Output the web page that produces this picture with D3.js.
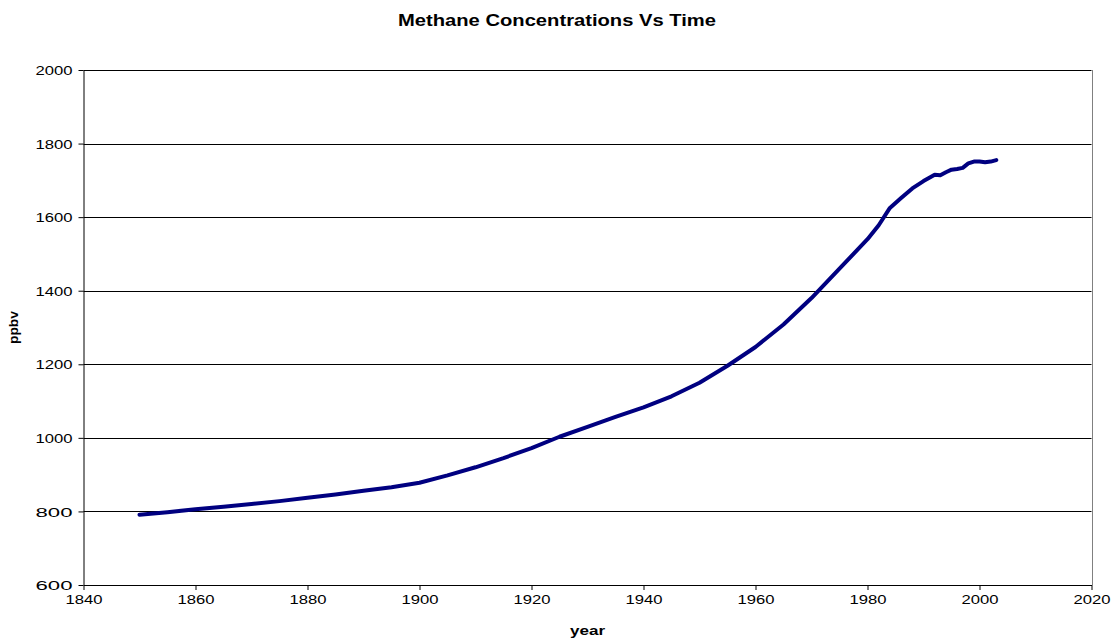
<!DOCTYPE html>
<html>
<head>
<meta charset="utf-8">
<script src="https://cdn.jsdelivr.net/npm/d3@7"></script>
<style>
  body { margin: 0; background: #fff; }
  svg text { font-family: "Liberation Sans", Arial, sans-serif; fill: #000; }
</style>
</head>
<body>
<svg id="chart" width="1112" height="638"></svg>
<script>
// data
let years = [1850, 1855, 1860, 1865, 1870, 1875, 1880, 1885, 1890, 1895,
             1900, 1905, 1910, 1915, 1920, 1925, 1930, 1935, 1940, 1945,
             1950, 1955, 1960, 1965, 1970, 1975, 1980, 1982, 1984, 1986,
             1988, 1990, 1992, 1993, 1994, 1995, 1996, 1997, 1998, 1999,
             2000, 2001, 2002, 2003];
let ppbv = [791, 798, 806, 813, 820, 828, 837, 846, 856, 866,
            878, 898, 920, 945, 972, 1003, 1030, 1057, 1083, 1113,
            1150, 1196, 1247, 1308, 1380, 1460, 1540, 1578, 1625, 1652,
            1678, 1698, 1715, 1714, 1722, 1729, 1731, 1734, 1746, 1751,
            1751, 1749, 1751, 1755];
let xTicks = [1840, 1860, 1880, 1900, 1920, 1940, 1960, 1980, 2000, 2020];
let yTicks = [600, 800, 1000, 1200, 1400, 1600, 1800, 2000];

let plotLeft = 83.5, plotRight = 1091.5, plotTop = 70, plotBottom = 585;

let svg = d3.select("#chart");

let x = d3.scaleLinear().domain([1840, 2020]).range([plotLeft, plotRight]);
let y = d3.scaleLinear().domain([600, 2000]).range([plotBottom, plotTop]);

// gridlines
svg.append("g")
    .selectAll("line")
    .data(yTicks.slice(1))
    .enter()
    .append("line")
    .attr("x1", plotLeft)
    .attr("x2", plotRight)
    .attr("y1", function(d) { return Math.round(y(d)) + 0.5; })
    .attr("y2", function(d) { return Math.round(y(d)) + 0.5; })
    .attr("stroke", "#000")
    .attr("stroke-width", 1);

// right border of plot area
svg.append("line")
    .attr("x1", Math.round(plotRight) + 0.5).attr("x2", Math.round(plotRight) + 0.5)
    .attr("y1", plotTop).attr("y2", plotBottom)
    .attr("stroke", "#808080");

// y axis
let yAxis = d3.axisLeft(y)
    .tickValues(yTicks)
    .tickFormat(d3.format("d"))
    .tickSize(5)
    .tickSizeOuter(0);
let gy = svg.append("g")
    .attr("transform", "translate(" + plotLeft + ",0)")
    .call(yAxis);

// x axis
let xAxis = d3.axisBottom(x)
    .tickValues(xTicks)
    .tickFormat(d3.format("d"))
    .tickSize(5)
    .tickSizeOuter(0);
let gx = svg.append("g")
    .attr("transform", "translate(0," + plotBottom + ")")
    .call(xAxis);

[gx, gy].forEach(function(g) {
    g.select(".domain").attr("stroke", "#000");
    g.selectAll(".tick line").attr("stroke", "#000");
    g.selectAll(".tick text")
        .attr("font-family", "Liberation Sans, Arial, sans-serif")
        .attr("font-size", 13)
        .attr("fill", "#000")
        .attr("textLength", 37)
        .attr("lengthAdjust", "spacingAndGlyphs");
});
gy.selectAll(".tick text").attr("x", -11).attr("dy", "0.36em");
gx.selectAll(".tick text").attr("y", 9).attr("dy", "0.8em");

// the line
let line = d3.line()
    .x(function(d, i) { return x(years[i]); })
    .y(function(d) { return y(d); });

svg.append("path")
    .datum(ppbv)
    .attr("d", line)
    .attr("fill", "none")
    .attr("stroke", "#000080")
    .attr("stroke-width", 4)
    .attr("stroke-linejoin", "round")
    .attr("stroke-linecap", "round");

// titles
svg.append("text")
    .attr("x", 557).attr("y", 26)
    .attr("text-anchor", "middle")
    .attr("font-size", 17)
    .attr("font-weight", "bold")
    .attr("textLength", 318)
    .attr("lengthAdjust", "spacingAndGlyphs")
    .text("Methane Concentrations Vs Time");

svg.append("text")
    .attr("x", (plotLeft + plotRight) / 2).attr("y", 635)
    .attr("text-anchor", "middle")
    .attr("font-size", 13)
    .attr("font-weight", "bold")
    .attr("textLength", 35)
    .attr("lengthAdjust", "spacingAndGlyphs")
    .text("year");

svg.append("text")
    .attr("transform", "translate(18,327.5) rotate(-90)")
    .attr("text-anchor", "middle")
    .attr("font-size", 13)
    .attr("font-weight", "bold")
    .attr("textLength", 33)
    .attr("lengthAdjust", "spacingAndGlyphs")
    .text("ppbv");
</script>
</body>
</html>
